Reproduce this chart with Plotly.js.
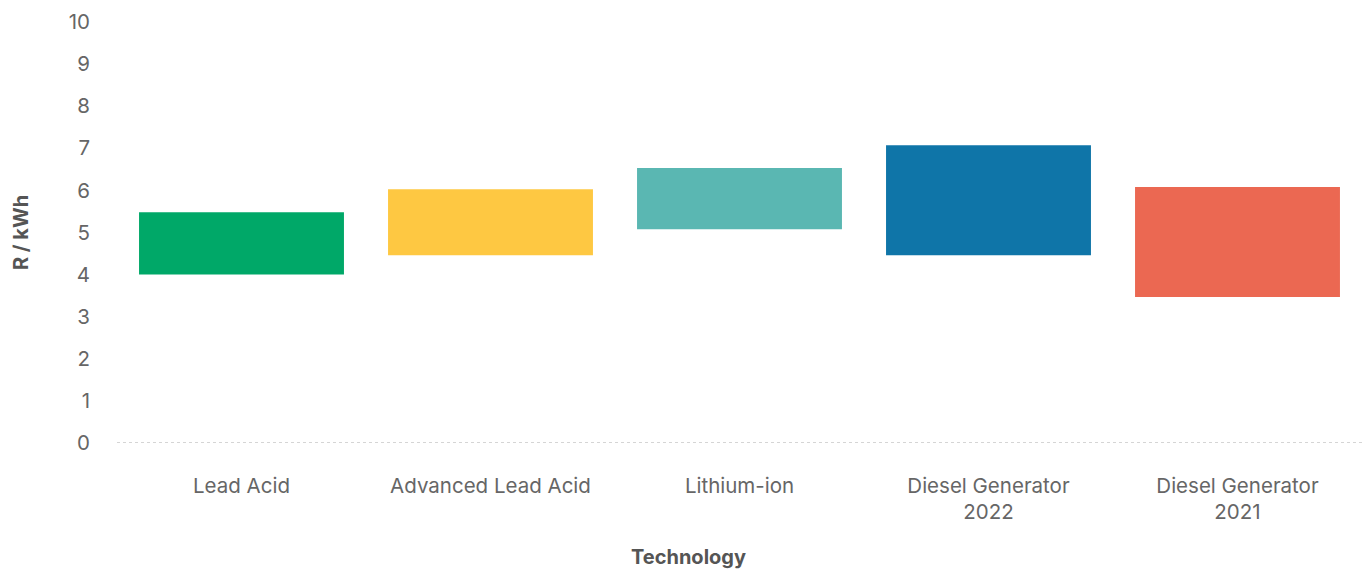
<!DOCTYPE html>
<html>
<head>
<meta charset="utf-8">
<script src="https://cdn.plot.ly/plotly-3.0.1.min.js"></script>
<style>html,body{margin:0;padding:0;background:#fff;}#chart{width:1362px;height:569px;}</style>
</head>
<body>
<div id="chart"></div>
<script>
const categories = ["Lead Acid", "Advanced Lead Acid", "Lithium-ion", "Diesel Generator<br>2022", "Diesel Generator<br>2021"];
const lowValues = [4.0, 4.46, 5.08, 4.46, 3.47];
const highValues = [5.48, 6.03, 6.53, 7.07, 6.08];
const barColors = ["#00A868", "#FEC842", "#5AB7B2", "#0F75A8", "#EB6852"];
const yTicks = [0, 1, 2, 3, 4, 5, 6, 7, 8, 9, 10];

const trace = {
  type: "bar",
  x: categories,
  base: lowValues,
  y: highValues.map((h, i) => h - lowValues[i]),
  marker: {color: barColors},
  hoverinfo: "skip"
};

const FONT = "Inter, 'Open Sans', sans-serif";
const layout = {
  width: 1362, height: 569,
  margin: {l: 117, r: 0, t: 22, b: 126},
  paper_bgcolor: "#fff", plot_bgcolor: "#fff",
  showlegend: false,
  bargap: 0.177,
  font: {family: FONT, color: "#666", size: 20},
  xaxis: {
    type: "category",
    showgrid: false, zeroline: false, showline: false,
    ticks: "", ticklabelstandoff: 28,
    tickfont: {family: FONT, size: 20.5, color: "#666"}
  },
  yaxis: {
    range: [0, 10],
    tickvals: yTicks,
    showgrid: false, zeroline: false, showline: false,
    ticks: "", ticklabelstandoff: 26,
    tickfont: {family: FONT, size: 20.5, color: "#666"},
    title: {text: "R / kWh", font: {family: FONT, size: 20, color: "#555", weight: "bold"}, standoff: 34}
  },
  shapes: [{
    type: "line", xref: "paper", yref: "y", x0: 0, x1: 1, y0: 0, y1: 0,
    line: {color: "#aaa", width: 1, dash: "dot"}
  }],
  annotations: [{
    text: "Technology", xref: "paper", yref: "paper", x: 0.459, y: 0, yshift: -114,
    xanchor: "center", yanchor: "middle", showarrow: false,
    font: {family: FONT, size: 20, color: "#555", weight: "bold"}
  }]
};
Plotly.newPlot("chart", [trace], layout, {staticPlot: true, displayModeBar: false});
</script>
</body>
</html>
